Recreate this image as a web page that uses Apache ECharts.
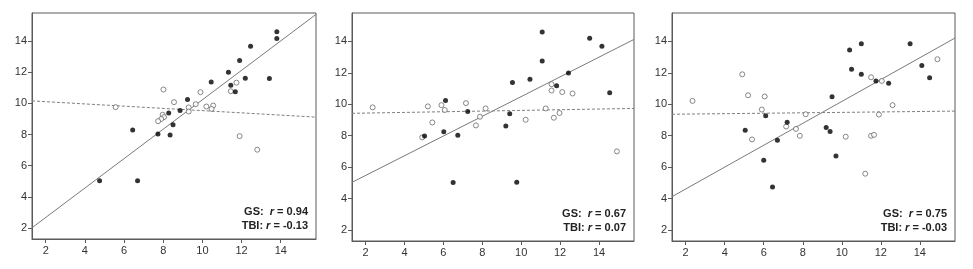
<!DOCTYPE html>
<html><head><meta charset="utf-8">
<script src="https://cdn.jsdelivr.net/npm/echarts@6/dist/echarts.min.js"></script>
<style>html,body{margin:0;padding:0;background:#fff}#c{width:973px;height:269px}</style>
</head><body><div id="c"></div>
<script>
var tickValues = [2, 4, 6, 8, 10, 12, 14];
var axisMin = 1.3, axisMax = 15.8;

// Panel 1
var gs1 = [[13.8,14.6],[13.8,14.17],[12.46,13.66],[11.9,12.75],[11.33,12.0],[10.45,11.38],[11.45,11.16],[12.19,11.61],[13.42,11.59],[11.68,10.74],[9.24,10.25],[8.86,9.54],[8.28,9.39],[8.5,8.63],[7.73,8.03],[8.35,7.97],[6.44,8.29],[4.75,5.04],[6.69,5.04]];
var tbi1 = [[5.57,9.76],[8.01,10.89],[8.55,10.08],[9.9,10.72],[9.66,9.95],[10.2,9.8],[10.55,9.86],[10.47,9.65],[9.3,9.74],[9.3,9.48],[7.97,9.27],[8.04,9.12],[7.9,9.0],[7.74,8.86],[11.45,10.78],[11.74,11.33],[11.9,7.9],[12.8,7.03]];
var fitGs1 = [[1.3,2.02],[15.8,15.71]];
var fitTbi1 = [[1.3,10.16],[15.8,9.12]];
var r1 = ['0.94', '-0.13'];

// Panel 2
var gs2 = [[11.08,14.59],[11.08,12.75],[13.52,14.19],[14.15,13.68],[12.43,11.99],[10.45,11.59],[9.55,11.38],[11.82,11.17],[14.55,10.73],[6.11,10.24],[7.25,9.54],[9.41,9.39],[9.21,8.61],[6.02,8.25],[5.03,7.98],[6.74,8.02],[6.5,5.02],[9.77,5.04]];
var tbi2 = [[2.36,9.8],[5.2,9.86],[5.9,9.94],[6.07,9.63],[5.43,8.84],[4.91,7.89],[7.16,10.07],[8.17,9.73],[7.88,9.2],[7.67,8.65],[10.23,9.01],[11.26,9.73],[11.68,9.14],[11.97,9.44],[11.56,11.27],[11.56,10.87],[12.11,10.77],[12.64,10.68],[14.92,7.0]];
var fitGs2 = [[1.3,5.03],[15.8,14.12]];
var fitTbi2 = [[1.3,9.42],[15.8,9.73]];
var r2 = ['0.67', '0.07'];

// Panel 3
var gs3 = [[10.4,13.45],[11.0,13.85],[13.5,13.85],[10.5,12.22],[11.0,11.9],[14.1,12.46],[14.5,11.69],[11.75,11.48],[12.4,11.33],[9.5,10.47],[6.1,9.26],[5.05,8.35],[7.2,8.86],[6.7,7.71],[9.2,8.52],[9.4,8.26],[6.0,6.44],[9.7,6.7],[6.45,4.73]];
var tbi3 = [[2.35,10.21],[4.9,11.9],[5.2,10.57],[6.05,10.49],[5.9,9.66],[5.4,7.76],[7.15,8.58],[7.65,8.43],[7.85,7.99],[8.15,9.36],[10.2,7.93],[11.5,11.71],[12.05,11.48],[12.6,9.94],[11.9,9.34],[11.5,7.99],[11.65,8.05],[11.2,5.58],[14.9,12.86]];
var fitGs3 = [[1.3,4.12],[15.8,14.21]];
var fitTbi3 = [[1.3,9.36],[15.8,9.56]];
var r3 = ['0.75', '-0.03'];

var panels = [
  {gs: gs1, tbi: tbi1, fg: fitGs1, ft: fitTbi1, r: r1, grid: {left: 32, top: 13, width: 284, height: 226}},
  {gs: gs2, tbi: tbi2, fg: fitGs2, ft: fitTbi2, r: r2, grid: {left: 352, top: 13, width: 282, height: 228}},
  {gs: gs3, tbi: tbi3, fg: fitGs3, ft: fitTbi3, r: r3, grid: {left: 672, top: 13, width: 283, height: 228}}
];

var grids = [], xAxes = [], yAxes = [], series = [], graphics = [];
var labelStyle = {color: '#333', fontSize: 11, fontFamily: 'Liberation Sans, Arial, sans-serif'};
panels.forEach(function (p, i) {
  grids.push(Object.assign({show: true, borderColor: '#5a5a5a', borderWidth: 1, backgroundColor: '#fff'}, p.grid));
  var common = {
    type: 'value', min: axisMin, max: axisMax, gridIndex: i,
    axisLine: {show: true, lineStyle: {color: '#5a5a5a', width: 1}},
    axisTick: {show: true, length: 4, customValues: tickValues, lineStyle: {color: '#5a5a5a'}},
    splitLine: {show: false}
  };
  xAxes.push(Object.assign({}, common, {axisLabel: Object.assign({customValues: tickValues, margin: 6}, labelStyle)}));
  yAxes.push(Object.assign({}, common, {axisLabel: Object.assign({customValues: tickValues, margin: 5}, labelStyle)}));
  series.push({type: 'line', xAxisIndex: i, yAxisIndex: i, data: p.fg, symbol: 'none', silent: true,
    lineStyle: {color: '#7a7a7a', width: 1}, z: 2});
  series.push({type: 'line', xAxisIndex: i, yAxisIndex: i, data: p.ft, symbol: 'none', silent: true,
    lineStyle: {color: '#808080', width: 1, type: [3, 2]}, z: 2});
  series.push({type: 'scatter', xAxisIndex: i, yAxisIndex: i, data: p.tbi, symbol: 'circle', symbolSize: 5,
    itemStyle: {color: '#fff', borderColor: '#6a6a6a', borderWidth: 1}, z: 3});
  series.push({type: 'scatter', xAxisIndex: i, yAxisIndex: i, data: p.gs, symbol: 'circle', symbolSize: 5,
    itemStyle: {color: '#000'}, z: 4});
  var right = p.grid.left + p.grid.width - 8;
  var bottom = p.grid.top + p.grid.height;
  var rich = {
    b: {fontWeight: 'bold', fontSize: 11, fill: '#222', fontFamily: 'Liberation Sans, Arial, sans-serif'},
    i: {fontWeight: 'bold', fontStyle: 'italic', fontSize: 11, fill: '#222', fontFamily: 'Liberation Sans, Arial, sans-serif'}
  };
  graphics.push({type: 'text', x: right, y: bottom - 27, z: 10, style: {
    text: '{b|GS:  }{i|r}{b| = ' + p.r[0] + '}', rich: rich, align: 'right', verticalAlign: 'middle'}});
  graphics.push({type: 'text', x: right, y: bottom - 13, z: 10, style: {
    text: '{b|TBI: }{i|r}{b| = ' + p.r[1] + '}', rich: rich, align: 'right', verticalAlign: 'middle'}});
});

var chart = echarts.init(document.getElementById('c'), null, {renderer: 'canvas'});
chart.setOption({
  backgroundColor: '#fff',
  animation: false,
  grid: grids, xAxis: xAxes, yAxis: yAxes, series: series, graphic: graphics
});
</script></body></html>
